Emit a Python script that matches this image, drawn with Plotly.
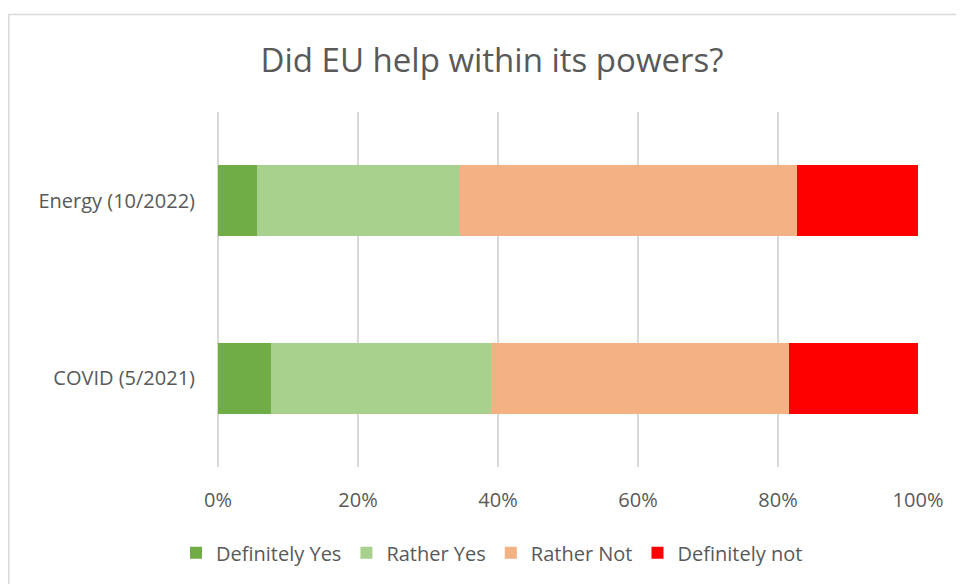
import plotly.graph_objects as go

categories = ["COVID (5/2021)", "Energy (10/2022)"]
definitely_yes = [7.6, 5.6]
rather_yes = [31.4, 28.9]
rather_not = [42.5, 48.2]
definitely_not = [18.5, 17.3]

series = [
    ("Definitely Yes", definitely_yes, "#70ad47"),
    ("Rather Yes", rather_yes, "#a9d18e"),
    ("Rather Not", rather_not, "#f4b183"),
    ("Definitely not", definitely_not, "#ff0000"),
]

FONT = "Open Sans"
TXT = "#595959"

fig = go.Figure()
for name, vals, color in series:
    fig.add_trace(go.Bar(
        name=name, y=categories, x=[v / 100 for v in vals], orientation="h",
        marker=dict(color=color, line=dict(width=0)), width=0.4,
    ))

# page is offset by the 8px body margin
OFF = 8
W, H = 964 - OFF, 584 - OFF
L, R, T, B = 218 - OFF, 918 - OFF, 112 - OFF, 472 - OFF
fig.update_layout(
    width=W, height=H, barmode="stack",
    margin=dict(l=L, r=W - R, t=T, b=H - B),
    paper_bgcolor="white", plot_bgcolor="white",
    font=dict(family=FONT, color=TXT, size=20),
    title=dict(text="Did EU help within its powers?", x=(492 - OFF) / W, xref="container",
               xanchor="center", y=1 - (60 - OFF) / H, yref="container", yanchor="middle",
               font=dict(size=33, color=TXT, family=FONT)),
    xaxis=dict(range=[0, 1], tickvals=[0, 0.2, 0.4, 0.6, 0.8, 1.0], tickformat=".0%",
               showgrid=True, gridcolor="#d9d9d9", gridwidth=1.5,
               zeroline=True, zerolinecolor="#d9d9d9", zerolinewidth=1.5,
               showline=False, ticks="outside", ticklen=15, tickcolor="rgba(0,0,0,0)",
               tickfont=dict(size=20, color=TXT), fixedrange=True),
    yaxis=dict(categoryorder="array", categoryarray=categories, showgrid=False,
               zeroline=False, showline=False, ticks="outside", ticklen=18,
               tickcolor="rgba(0,0,0,0)", tickfont=dict(size=20, color=TXT)),
    legend=dict(orientation="h", x=(492 - 218) / (918 - 218), xanchor="center",
                y=(472 - 559) / (472 - 112), yanchor="middle", traceorder="normal",
                font=dict(size=20, color=TXT), itemwidth=30),
    bargap=0.6,
)

fig.add_shape(type="rect", xref="paper", yref="paper",
              x0=(0.75 - L) / (R - L), x1=(975 - L) / (R - L),
              y0=(B - 600) / (B - T), y1=(B - (13 - OFF)) / (B - T),
              line=dict(color="#d9d9d9", width=1.5), layer="below")

fig.write_html("out.html")
